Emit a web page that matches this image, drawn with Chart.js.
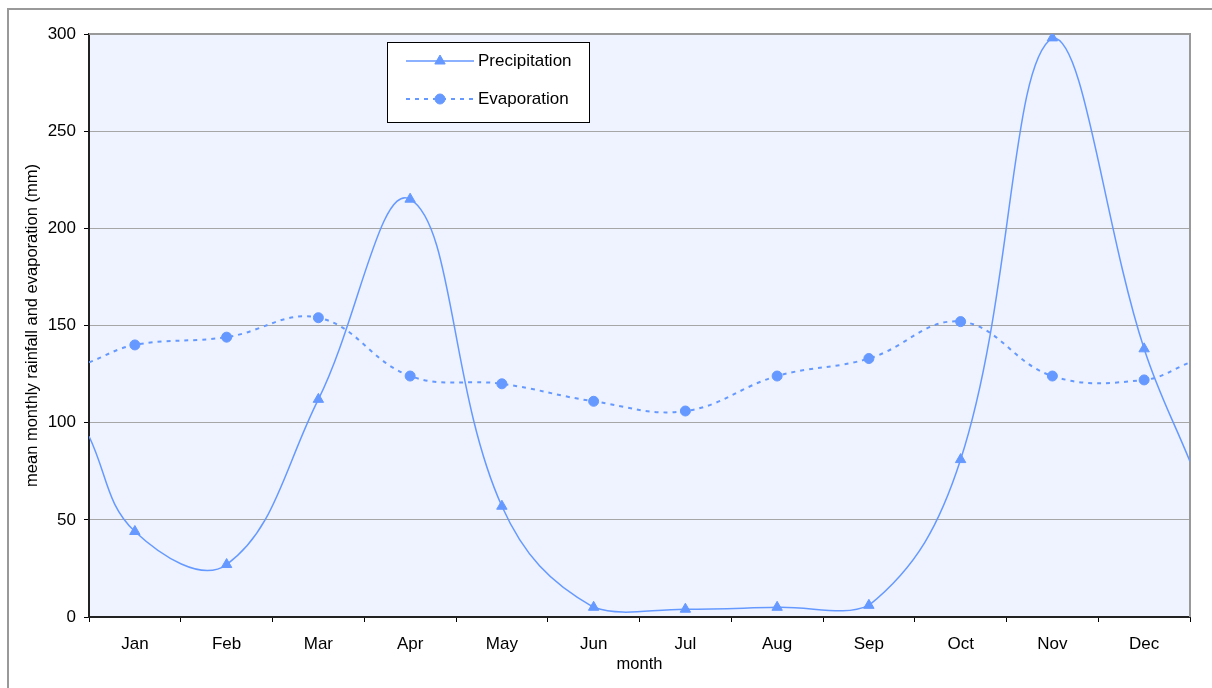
<!DOCTYPE html>
<html>
<head>
<meta charset="utf-8">
<style>
  html, body { margin: 0; padding: 0; background: #fff; }
  #wrap { width: 1212px; height: 688px; }
</style>
</head>
<body>
<div id="wrap"><canvas id="chart" width="1212" height="688"></canvas></div>
<script src="https://cdn.jsdelivr.net/npm/chart.js@4"></script>
<script>
// monthly values
var months = ['Jan', 'Feb', 'Mar', 'Apr', 'May', 'Jun', 'Jul', 'Aug', 'Sep', 'Oct', 'Nov', 'Dec'];
var precipitation = [44, 27, 112, 215, 57, 5, 4, 5, 6, 81, 298, 138];
var evaporation = [140, 144, 154, 124, 120, 111, 106, 124, 133, 152, 124, 122];
// where the curves leave the plot at the left and right edges
var precipEdges = [93, 80];
var evapEdges = [131, 131];
var yTicks = [0, 50, 100, 150, 200, 250, 300];

var blue = '#6699FF';

function series(vals, edges) {
    var pts = [{x: 0.5, y: edges[0]}];
    vals.forEach(function (v, i) { pts.push({x: i + 1, y: v}); });
    pts.push({x: 12.5, y: edges[1]});
    return pts;
}

function markerSize(r) {
    return function (c) {
        var last = c.dataset.data.length - 1;
        return (c.dataIndex === 0 || c.dataIndex === last) ? 0 : r;
    };
}

// background, borders, legend box
var frame = {
    id: 'frame',
    beforeDraw: function (chart) {
        var ctx = chart.ctx, a = chart.chartArea;
        ctx.save();
        ctx.fillStyle = '#fff';
        ctx.fillRect(0, 0, chart.width, chart.height);
        ctx.strokeStyle = '#999';
        ctx.lineWidth = 2;
        ctx.strokeRect(8, 9, 1400, 1000);
        ctx.fillStyle = '#EEF3FF';
        ctx.fillRect(a.left, a.top, a.right - a.left, a.bottom - a.top);
        ctx.restore();
    },
    beforeDatasetsDraw: function (chart) {
        var ctx = chart.ctx, a = chart.chartArea;
        ctx.save();
        ctx.strokeStyle = '#999';
        ctx.lineWidth = 2;
        ctx.beginPath();
        ctx.moveTo(a.left, a.top);
        ctx.lineTo(a.right, a.top);
        ctx.lineTo(a.right, a.bottom);
        ctx.stroke();
        ctx.restore();
    },
    afterDraw: function (chart) {
        var ctx = chart.ctx;
        var bx = 387, by = 42, bw = 202, bh = 80;
        ctx.save();
        ctx.fillStyle = '#fff';
        ctx.fillRect(bx, by, bw, bh);
        ctx.strokeStyle = '#000';
        ctx.lineWidth = 1;
        ctx.strokeRect(bx + 0.5, by + 0.5, bw, bh);
        chart.data.datasets.forEach(function (ds, i) {
            var y = by + 19 + i * 38;
            ctx.strokeStyle = ds.borderColor;
            ctx.lineWidth = ds.borderWidth;
            ctx.setLineDash(ds.borderDash || []);
            ctx.beginPath();
            ctx.moveTo(406, y);
            ctx.lineTo(474, y);
            ctx.stroke();
            ctx.setLineDash([]);
            ctx.fillStyle = ds.backgroundColor;
            ctx.strokeStyle = ds.borderColor;
            ctx.lineWidth = 1;
            Chart.helpers.drawPoint(ctx, {
                pointStyle: ds.pointStyle, radius: ds.legendRadius, borderWidth: 1
            }, 440, y);
            ctx.fillStyle = '#000';
            ctx.font = '17px "Liberation Sans", Arial, sans-serif';
            ctx.textBaseline = 'middle';
            ctx.fillText(ds.label, 478, y);
        });
        ctx.restore();
    }
};

var ctx = document.getElementById('chart').getContext('2d');
var chart = new Chart(ctx, {
    type: 'line',
    data: {
        datasets: [{
            label: 'Precipitation',
            data: series(precipitation, precipEdges),
            borderColor: blue,
            backgroundColor: blue,
            borderWidth: 1.5,
            pointStyle: 'triangle',
            pointRadius: markerSize(6),
            legendRadius: 6,
            pointBorderWidth: 1,
            tension: 0.4
        }, {
            label: 'Evaporation',
            data: series(evaporation, evapEdges),
            borderColor: blue,
            backgroundColor: blue,
            borderWidth: 2,
            borderDash: [4, 5],
            pointStyle: 'circle',
            pointRadius: markerSize(5),
            legendRadius: 5,
            pointBorderWidth: 1,
            tension: 0.4
        }]
    },
    options: {
        responsive: false,
        animation: false,
        devicePixelRatio: 1,
        layout: { padding: { top: 34, right: 22, left: 0, bottom: 0 } },
        plugins: {
            legend: { display: false },
            tooltip: { enabled: false }
        },
        scales: {
            x: {
                type: 'linear',
                min: 0.5,
                max: 12.5,
                afterBuildTicks: function (s) {
                    s.ticks = months.map(function (m, i) { return {value: i + 1}; });
                },
                afterFit: function (s) { s.height = 71; },
                ticks: {
                    autoSkip: false,
                    maxRotation: 0,
                    padding: 12,
                    color: '#000',
                    font: { family: '"Liberation Sans", Arial, sans-serif', size: 17 },
                    callback: function (v) { return months[v - 1]; }
                },
                grid: {
                    offset: true,
                    drawOnChartArea: false,
                    drawTicks: true,
                    tickLength: 5,
                    tickColor: '#000'
                },
                border: { color: '#222', width: 2 },
                title: {
                    display: true,
                    text: 'month',
                    color: '#000',
                    padding: { top: 0, bottom: 14 },
                    font: { family: '"Liberation Sans", Arial, sans-serif', size: 16.5 }
                }
            },
            y: {
                min: 0,
                max: 300,
                afterBuildTicks: function (s) {
                    s.ticks = yTicks.map(function (v) { return {value: v}; });
                },
                afterFit: function (s) { s.width = 89; },
                ticks: {
                    padding: 8,
                    color: '#000',
                    font: { family: '"Liberation Sans", Arial, sans-serif', size: 17 }
                },
                grid: {
                    color: '#A6A6A6',
                    lineWidth: 1,
                    tickLength: 5,
                    tickColor: '#000'
                },
                border: { color: '#222', width: 2 },
                title: {
                    display: true,
                    text: 'mean monthly rainfall and evaporation (mm)',
                    color: '#000',
                    padding: { top: 23, bottom: 0 },
                    font: { family: '"Liberation Sans", Arial, sans-serif', size: 16.5 }
                }
            }
        }
    },
    plugins: [frame]
});
</script>
</body>
</html>
